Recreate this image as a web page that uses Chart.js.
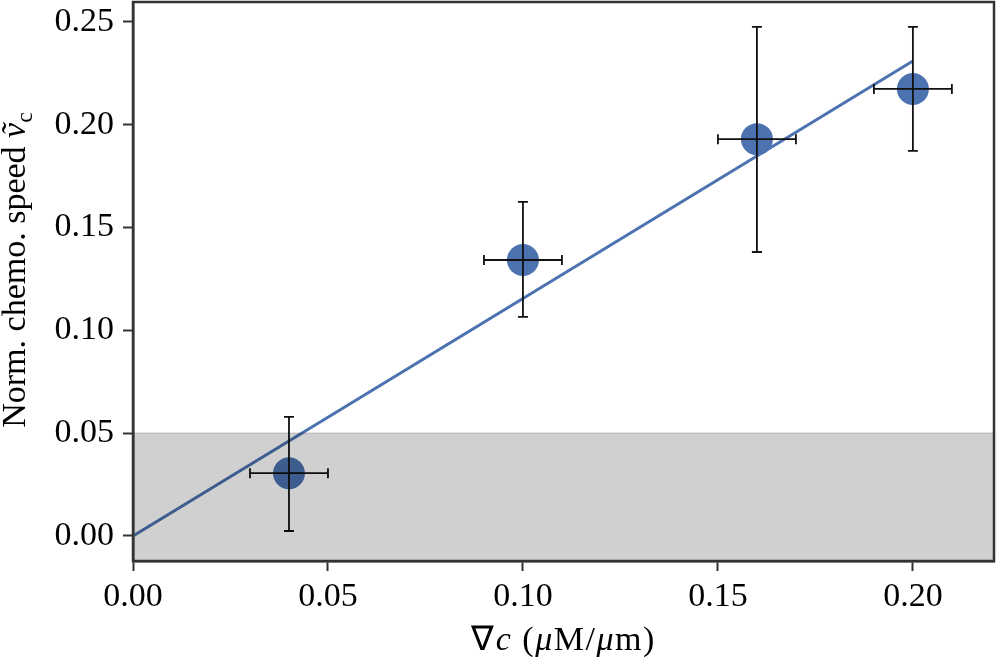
<!DOCTYPE html>
<html>
<head>
<meta charset="utf-8">
<script src="https://cdn.jsdelivr.net/npm/chart.js@4"></script>
<style>
  html, body { margin: 0; padding: 0; background: #fff; }
  #wrap { width: 996px; height: 661px; }
</style>
</head>
<body>
<div id="wrap"><canvas id="chemoChart"></canvas></div>
<script>
// data
const gradients = [0.04, 0.10, 0.16, 0.20];
const speeds = [0.0305, 0.1342, 0.1930, 0.2174];
const speedLow = [0.0024, 0.1065, 0.1381, 0.1873];
const speedHigh = [0.0579, 0.1625, 0.2476, 0.2476];
const gradErr = [0.01, 0.01, 0.01, 0.01];
const fitX = [0.0, 0.20];
const fitY = [0.0, 0.231];
const xTicks = [0.00, 0.05, 0.10, 0.15, 0.20];
const yTicks = [0.00, 0.05, 0.10, 0.15, 0.20, 0.25];
const threshold = 0.05;

const FONT = "'Liberation Serif', serif";
const AXIS = '#333333';

// error bars (x and y) with caps
const errorBars = {
  id: 'errorBars',
  afterDatasetsDraw(chart) {
    const { ctx, scales: { x, y } } = chart;
    ctx.save();
    ctx.strokeStyle = '#111';
    ctx.lineWidth = 1.8;
    const cap = 5;
    gradients.forEach((g, i) => {
      const px = x.getPixelForValue(g);
      const py = y.getPixelForValue(speeds[i]);
      const yTop = y.getPixelForValue(speedHigh[i]);
      const yBot = y.getPixelForValue(speedLow[i]);
      const xl = x.getPixelForValue(g - gradErr[i]);
      const xr = x.getPixelForValue(g + gradErr[i]);
      ctx.beginPath();
      ctx.moveTo(px, yTop); ctx.lineTo(px, yBot);
      ctx.moveTo(px - cap, yTop); ctx.lineTo(px + cap, yTop);
      ctx.moveTo(px - cap, yBot); ctx.lineTo(px + cap, yBot);
      ctx.moveTo(xl, py); ctx.lineTo(xr, py);
      ctx.moveTo(xl, py - cap); ctx.lineTo(xl, py + cap);
      ctx.moveTo(xr, py - cap); ctx.lineTo(xr, py + cap);
      ctx.stroke();
    });
    ctx.restore();
  }
};

// translucent band below the threshold, drawn over the data
const band = {
  id: 'band',
  afterDraw(chart) {
    const { ctx, chartArea: a, scales: { y } } = chart;
    const yt = y.getPixelForValue(threshold);
    ctx.save();
    ctx.fillStyle = 'rgba(0,0,0,0.185)';
    ctx.fillRect(a.left, yt, a.right - a.left, a.bottom - yt);
    ctx.strokeStyle = 'rgba(0,0,0,0.1)';
    ctx.lineWidth = 2;
    ctx.beginPath();
    ctx.moveTo(a.left, yt); ctx.lineTo(a.right, yt);
    ctx.stroke();
    // frame
    ctx.strokeStyle = AXIS;
    ctx.lineWidth = 2.5;
    ctx.strokeRect(a.left, a.top, a.right - a.left, a.bottom - a.top);
    ctx.restore();
  }
};

// axis titles with italic / subscript parts
function drawRuns(ctx, runs, size) {
  let total = 0;
  runs.forEach(r => {
    ctx.font = (r.italic ? 'italic ' : '') + (r.sub ? size * 0.7 : size) + 'px ' + FONT;
    r.w = ctx.measureText(r.t).width;
    total += r.w;
  });
  let cx = -total / 2;
  runs.forEach(r => {
    ctx.font = (r.italic ? 'italic ' : '') + (r.sub ? size * 0.7 : size) + 'px ' + FONT;
    ctx.fillText(r.t, cx, r.sub ? size * 0.22 : 0);
    cx += r.w;
  });
}

const axisTitles = {
  id: 'axisTitles',
  afterDraw(chart) {
    const { ctx, chartArea: a } = chart;
    ctx.save();
    ctx.fillStyle = '#000';
    ctx.textBaseline = 'alphabetic';
    ctx.textAlign = 'left';
    ctx.letterSpacing = '1.5px';
    ctx.translate((a.left + a.right) / 2, 650);
    drawRuns(ctx, [
      { t: '\u2207' }, { t: 'c', italic: true }, { t: ' (' },
      { t: '\u03bc', italic: true }, { t: 'M/' },
      { t: '\u03bc', italic: true }, { t: 'm)' }
    ], 34);
    ctx.restore();

    ctx.save();
    ctx.fillStyle = '#000';
    ctx.textAlign = 'left';
    ctx.translate(25, 270);
    ctx.rotate(-Math.PI / 2);
    drawRuns(ctx, [
      { t: 'Norm. chemo. speed ' }, { t: '\u1e7d', italic: true }, { t: 'c', sub: true }
    ], 34);
    ctx.restore();
  }
};

new Chart(document.getElementById('chemoChart'), {
  type: 'scatter',
  data: {
    datasets: [
      {
        label: 'fit',
        type: 'line',
        data: fitX.map((v, i) => ({ x: v, y: fitY[i] })),
        borderColor: '#4c72b0',
        borderWidth: 3,
        pointRadius: 0,
        fill: false,
        order: 2
      },
      {
        label: 'measured',
        data: gradients.map((v, i) => ({ x: v, y: speeds[i] })),
        backgroundColor: '#4c72b0',
        borderWidth: 0,
        pointRadius: 16,
        pointHoverRadius: 16,
        order: 1
      }
    ]
  },
  options: {
    responsive: true,
    maintainAspectRatio: false,
    animation: false,
    devicePixelRatio: 1,
    layout: { autoPadding: false, padding: { top: 2, right: 2, left: 0, bottom: 0 } },
    plugins: { legend: { display: false }, tooltip: { enabled: false } },
    scales: {
      x: {
        type: 'linear',
        min: 0,
        max: 0.2208,
        afterBuildTicks: s => { s.ticks = xTicks.map(v => ({ value: v })); },
        afterFit: s => { s.height = 100; s.paddingLeft = 0; s.paddingRight = 0; },
        border: { color: AXIS, width: 2.5 },
        grid: { drawOnChartArea: false, tickLength: 10, tickColor: AXIS, tickWidth: 2 },
        ticks: {
          color: '#000',
          padding: 6,
          maxRotation: 0,
          font: { family: FONT, size: 34 },
          callback: v => v.toFixed(2)
        }
      },
      y: {
        type: 'linear',
        min: -0.0122,
        max: 0.2597,
        afterBuildTicks: s => { s.ticks = yTicks.map(v => ({ value: v })); },
        afterFit: s => { s.width = 133; s.paddingTop = 0; s.paddingBottom = 0; },
        border: { color: AXIS, width: 2.5 },
        grid: { drawOnChartArea: false, tickLength: 10, tickColor: AXIS, tickWidth: 2 },
        ticks: {
          color: '#000',
          padding: 9,
          font: { family: FONT, size: 34 },
          callback: v => v.toFixed(2)
        }
      }
    }
  },
  plugins: [errorBars, band, axisTitles]
});
</script>
</body>
</html>
